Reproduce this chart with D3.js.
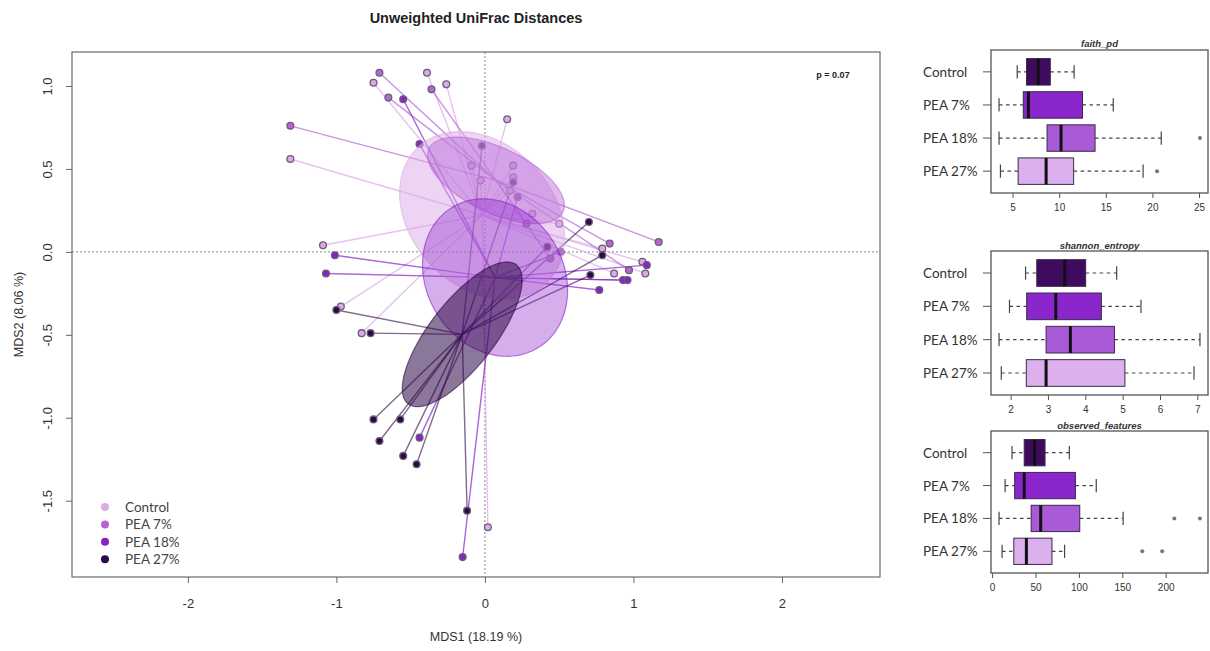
<!DOCTYPE html>
<html>
<head>
<meta charset="utf-8">
<script src="https://cdn.jsdelivr.net/npm/d3@7"></script>
<style>
  body { margin: 0; background: #fff; }
  svg { display: block; font-family: "Liberation Sans", Arial, sans-serif; }
  .lab { font-family: Lato, "Open Sans", sans-serif; }
</style>
</head>
<body>
<div id="chart"></div>
<script>
//groups
const groups = ["Control", "PEA 7%", "PEA 18%", "PEA 27%"];

//MDS coordinates [MDS1, MDS2]
const mdsControl = [
  [-0.39, 1.08], [-0.75, 1.02], [-0.26, 1.01], [-1.31, 0.56], [0.15, 0.8],
  [-0.09, 0.52], [0.19, 0.52], [-0.03, 0.43], [0.19, 0.45], [0.17, 0.37],
  [0.32, 0.23], [0.5, 0.17], [-1.09, 0.04], [0.79, 0.02], [1.06, -0.06],
  [1.08, -0.13], [0.87, -0.13], [-0.97, -0.33], [-0.83, -0.49], [0.02, -1.66],
];
const mdsPea7 = [
  [-1.31, 0.76], [-0.71, 1.08], [-0.65, 0.93], [-0.36, 0.98], [1.17, 0.06],
  [0.84, 0.05], [0.97, -0.11], [0.28, 0.17], [0.44, -0.04],
];
const mdsPea18 = [
  [-0.55, 0.92], [-0.44, 0.65], [0.22, 0.33], [-1.01, -0.02], [-1.07, -0.13],
  [1.09, -0.08], [0.93, -0.17], [0.96, -0.17], [0.77, -0.23], [-0.44, -1.12],
  [-0.15, -1.84], [0.51, 0.0],
];
const mdsPea27 = [
  [-0.02, 0.64], [0.19, 0.42], [0.7, 0.18], [0.42, 0.03], [0.79, -0.02],
  [0.71, -0.14], [-1.0, -0.35], [-0.77, -0.49], [-0.75, -1.01], [-0.57, -1.01],
  [-0.71, -1.14], [-0.55, -1.23], [-0.46, -1.28], [-0.12, -1.56],
];

//ordiellipse axes per group: [semi axis 1, semi axis 2, angle in degrees]
const ellipseAxes = [
  [0.6, 0.45, -35],
  [0.49, 0.2, -22],
  [0.52, 0.44, -40],
  [0.556, 0.21, 48],
];

const mdsXTicks = [-2, -1, 0, 1, 2];
const mdsYTicks = [-1.5, -1, -0.5, 0, 0.5, 1];
const pValue = "p = 0.07";

//alpha diversity: [lower whisker, Q1, median, Q3, upper whisker]
const faithPd = [
  [5.5, 6.5, 7.75, 9.05, 11.6],
  [3.55, 6.15, 6.7, 12.5, 15.8],
  [3.55, 8.7, 10.2, 13.85, 20.95],
  [3.7, 5.6, 8.6, 11.55, 19.0],
];
const faithPdOut = [[], [], [25.1], [20.5]];
const shannonEntropy = [
  [2.4, 2.7, 3.45, 4.01, 4.84],
  [1.97, 2.43, 3.21, 4.43, 5.49],
  [1.69, 2.95, 3.6, 4.78, 7.07],
  [1.75, 2.42, 2.95, 5.06, 6.91],
];
const shannonOut = [[], [], [], []];
const observedFeatures = [
  [23, 37, 49, 61, 89],
  [15, 26, 37, 96, 120],
  [8, 45, 56, 101, 151],
  [11.5, 25, 39.5, 69, 83.5],
];
const observedOut = [[], [], [210, 239.5], [173, 196]];
const faithTicks = [5, 10, 15, 20, 25];
const shannonTicks = [2, 3, 4, 5, 6, 7];
const observedTicks = [0, 50, 100, 150, 200];

//colours
const pointColors = ["#dcaae8", "#b565d8", "#8a22c9", "#2c0846"];
const boxColors = ["#3e0b5f", "#8a26cc", "#a95ad6", "#dcb0ec"];

class OrdinationViz {
  constructor(_svg) {
    this.svg = _svg;
    this.data = this.dataWrangling();
    this.initVis();
  }

  dataWrangling() {
    const sets = [mdsControl, mdsPea7, mdsPea18, mdsPea27];
    return groups.map((g, i) => {
      const pts = sets[i].map(([x, y]) => ({ x, y }));
      return {
        group: g,
        i,
        pts,
        cx: d3.mean(pts, (d) => d.x),
        cy: d3.mean(pts, (d) => d.y),
        axes: ellipseAxes[i],
      };
    });
  }

  initVis() {
    const box = { left: 72, top: 52, right: 880, bottom: 577 };

    this.x = d3.scaleLinear().domain([-2.78, 2.66]).range([box.left, box.right]);
    this.y = d3.scaleLinear().domain([-1.96, 1.205]).range([box.bottom, box.top]);

    //title
    this.svg
      .append("text")
      .attr("x", (box.left + box.right) / 2)
      .attr("y", 23)
      .attr("text-anchor", "middle")
      .attr("font-weight", "bold")
      .attr("font-size", 14.5)
      .attr("fill", "#222")
      .text("Unweighted UniFrac Distances");

    //zero lines
    const gZero = this.svg.append("g").attr("stroke", "#888").attr("stroke-dasharray", "2,2");
    gZero.append("line")
      .attr("x1", this.x(0)).attr("x2", this.x(0))
      .attr("y1", box.top).attr("y2", box.bottom);
    gZero.append("line")
      .attr("x1", box.left).attr("x2", box.right)
      .attr("y1", this.y(0)).attr("y2", this.y(0));

    this.spider();
    this.dots();
    this.ellipses();

    //frame
    this.svg
      .append("rect")
      .attr("x", box.left)
      .attr("y", box.top)
      .attr("width", box.right - box.left)
      .attr("height", box.bottom - box.top)
      .attr("fill", "none")
      .attr("stroke", "#777")
      .attr("stroke-width", 1.3);

    //axes
    const gx = this.svg
      .append("g")
      .attr("transform", `translate(0,${box.bottom})`)
      .call(d3.axisBottom(this.x).tickValues(mdsXTicks).tickSize(6).tickPadding(16).tickFormat((d) => String(d)));
    const gy = this.svg
      .append("g")
      .attr("transform", `translate(${box.left},0)`)
      .call(d3.axisLeft(this.y).tickValues(mdsYTicks).tickSize(6).tickFormat((d) => d.toFixed(1)));
    [gx, gy].forEach((g) => {
      g.select(".domain").remove();
      g.selectAll("line").attr("stroke", "#666");
      g.selectAll("text").attr("font-size", 13).attr("fill", "#333")
        .attr("font-family", "Liberation Sans, Arial, sans-serif");
    });
    gy.selectAll("text")
      .attr("x", 0)
      .attr("dy", 0)
      .attr("text-anchor", "middle")
      .attr("transform", "translate(-20,0)rotate(-90)");

    //axis titles
    this.svg
      .append("text")
      .attr("x", (box.left + box.right) / 2)
      .attr("y", 641)
      .attr("text-anchor", "middle")
      .attr("font-size", 12.5)
      .attr("fill", "#333")
      .text("MDS1 (18.19 %)");
    this.svg
      .append("text")
      .attr("transform", `translate(23,${(box.top + box.bottom) / 2})rotate(-90)`)
      .attr("text-anchor", "middle")
      .attr("font-size", 12.5)
      .attr("fill", "#333")
      .text("MDS2 (8.06 %)");

    //p value
    this.svg
      .append("text")
      .attr("x", 833)
      .attr("y", 78)
      .attr("text-anchor", "middle")
      .attr("font-size", 9)
      .attr("font-weight", "bold")
      .attr("fill", "#222")
      .text(pValue);

    this.legend();
  }

  spider() {
    const lines = this.data.flatMap((g) => g.pts.map((p) => ({ g, p })));
    this.svg
      .append("g")
      .selectAll("line")
      .data(lines)
      .join("line")
      .attr("x1", (d) => this.x(d.g.cx))
      .attr("y1", (d) => this.y(d.g.cy))
      .attr("x2", (d) => this.x(d.p.x))
      .attr("y2", (d) => this.y(d.p.y))
      .attr("stroke", (d) => pointColors[d.g.i])
      .attr("stroke-opacity", (d) => (d.g.i == 3 ? 0.6 : 0.7))
      .attr("stroke-width", 1.4);
  }

  dots() {
    const dots = this.data.flatMap((g) => g.pts.map((p) => ({ g, p })));
    this.svg
      .append("g")
      .selectAll("circle")
      .data(dots)
      .join("circle")
      .attr("cx", (d) => this.x(d.p.x))
      .attr("cy", (d) => this.y(d.p.y))
      .attr("r", 3.4)
      .attr("fill", (d) => pointColors[d.g.i])
      .attr("stroke", "#6a5f72")
      .attr("stroke-width", 1.3);
  }

  ellipses() {
    const path = (d) => {
      const [a, b, deg] = d.axes;
      const th = (deg * Math.PI) / 180;
      const pts = d3.range(0, 90).map((k) => {
        const t = (k / 90) * 2 * Math.PI;
        return [
          d.cx + a * Math.cos(th) * Math.cos(t) - b * Math.sin(th) * Math.sin(t),
          d.cy + a * Math.sin(th) * Math.cos(t) + b * Math.cos(th) * Math.sin(t),
        ];
      });
      return d3.line().x((p) => this.x(p[0])).y((p) => this.y(p[1])).curve(d3.curveLinearClosed)(pts);
    };

    this.svg
      .append("g")
      .selectAll("path")
      .data(this.data)
      .join("path")
      .attr("d", path)
      .attr("fill", (d) => pointColors[d.i])
      .attr("fill-opacity", (d) => [0.5, 0.45, 0.36, 0.55][d.i])
      .attr("stroke", (d) => pointColors[d.i])
      .attr("stroke-opacity", 0.6)
      .attr("stroke-width", 1.2);
  }

  legend() {
    const g = this.svg.append("g").attr("class", "lab");
    const item = g
      .selectAll("g")
      .data(groups)
      .join("g")
      .attr("transform", (d, i) => `translate(105,${507 + i * 17.4})`);
    item.append("circle").attr("r", 4).attr("fill", (d, i) => pointColors[i]);
    item
      .append("text")
      .attr("x", 20)
      .attr("y", 5)
      .attr("font-size", 13.5)
      .attr("fill", "#444")
      .text((d) => d);
  }
}

function boxPanel(svg, { title, stats, outliers, ticks, top, bottom, titleY }) {
  const left = 991;
  const right = 1208;

  //scales, R style 4% padding
  const all = stats.flat().concat(outliers.flat());
  const [lo, hi] = d3.extent(all);
  const pad = (hi - lo) * 0.04;
  const x = d3.scaleLinear().domain([lo - pad, hi + pad]).range([left, right]);
  const y = d3.scaleLinear().domain([0.34, 4.66]).range([top, bottom]);
  const half = y(1.4) - y(1);

  const g = svg.append("g");

  //title
  g.append("text")
    .attr("x", (left + right) / 2)
    .attr("y", titleY)
    .attr("text-anchor", "middle")
    .attr("font-size", 9.5)
    .attr("font-style", "italic")
    .attr("font-weight", "bold")
    .attr("fill", "#333")
    .text(title);

  const row = g
    .selectAll("g.row")
    .data(stats)
    .join("g")
    .attr("class", "row")
    .attr("transform", (d, i) => `translate(0,${y(i + 1)})`);

  //whiskers
  row.append("line")
    .attr("x1", (d) => x(d[0])).attr("x2", (d) => x(d[1]))
    .attr("stroke", "#444").attr("stroke-dasharray", "3.5,3.5").attr("stroke-width", 1.2);
  row.append("line")
    .attr("x1", (d) => x(d[3])).attr("x2", (d) => x(d[4]))
    .attr("stroke", "#444").attr("stroke-dasharray", "3.5,3.5").attr("stroke-width", 1.2);
  [0, 4].forEach((k) => {
    row.append("line")
      .attr("x1", (d) => x(d[k])).attr("x2", (d) => x(d[k]))
      .attr("y1", -half / 2).attr("y2", half / 2)
      .attr("stroke", "#444").attr("stroke-width", 1.2);
  });

  //box
  row.append("rect")
    .attr("x", (d) => x(d[1]))
    .attr("width", (d) => x(d[3]) - x(d[1]))
    .attr("y", -half)
    .attr("height", half * 2)
    .attr("fill", (d, i) => boxColors[i])
    .attr("stroke", "#3a2a48")
    .attr("stroke-width", 1);

  //median
  row.append("line")
    .attr("x1", (d) => x(d[2])).attr("x2", (d) => x(d[2]))
    .attr("y1", -half).attr("y2", half)
    .attr("stroke", "#111").attr("stroke-width", 3);

  //outliers
  row.selectAll("circle")
    .data((d, i) => outliers[i])
    .join("circle")
    .attr("cx", (d) => x(d))
    .attr("r", 2)
    .attr("fill", "#777");

  //group labels and y ticks
  row.append("line").attr("x1", left - 8).attr("x2", left).attr("stroke", "#555");
  row.append("text")
    .attr("class", "lab")
    .attr("x", 923)
    .attr("y", 5)
    .attr("font-size", 13.5)
    .attr("fill", "#333")
    .text((d, i) => groups[i]);

  //frame
  g.append("rect")
    .attr("x", left)
    .attr("y", top)
    .attr("width", right - left)
    .attr("height", bottom - top)
    .attr("fill", "none")
    .attr("stroke", "#555")
    .attr("stroke-width", 1.3);

  //x axis
  const ax = g
    .append("g")
    .attr("transform", `translate(0,${bottom})`)
    .call(d3.axisBottom(x).tickValues(ticks).tickSize(5).tickPadding(6).tickFormat((d) => String(d)));
  ax.select(".domain").remove();
  ax.selectAll("line").attr("stroke", "#555");
  ax.selectAll("text").attr("font-size", 10).attr("fill", "#333")
    .attr("font-family", "Liberation Sans, Arial, sans-serif");
}

const svg = d3.select("#chart").append("svg").attr("width", 1210).attr("height", 651);

new OrdinationViz(svg);

boxPanel(svg, { title: "faith_pd", stats: faithPd, outliers: faithPdOut, ticks: faithTicks, top: 50, bottom: 193, titleY: 47 });
boxPanel(svg, { title: "shannon_entropy", stats: shannonEntropy, outliers: shannonOut, ticks: shannonTicks, top: 251, bottom: 395, titleY: 249 });
boxPanel(svg, { title: "observed_features", stats: observedFeatures, outliers: observedOut, ticks: observedTicks, top: 431, bottom: 573, titleY: 429 });
</script>
</body>
</html>
